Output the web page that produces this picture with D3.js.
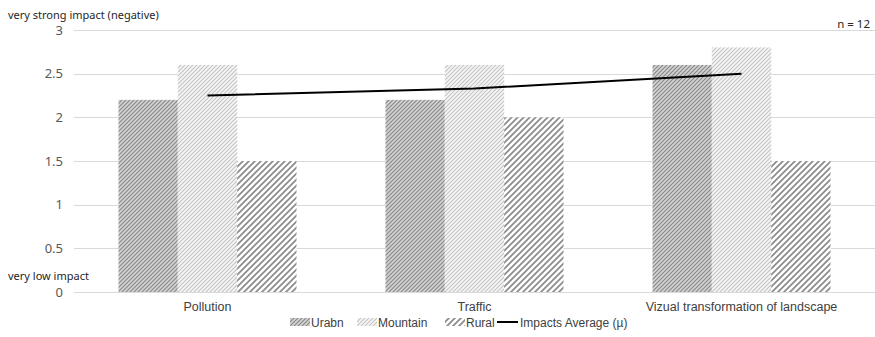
<!DOCTYPE html>
<html>
<head>
<meta charset="utf-8">
<script src="https://cdn.jsdelivr.net/npm/d3@7"></script>
<style>
  body { margin: 0; background: #fff; }
  svg { display: block; }
</style>
</head>
<body>
<svg id="chart" width="875" height="337"></svg>
<script>
const categories = ["Pollution", "Traffic", "Vizual transformation of landscape"];
const seriesNames = ["Urabn", "Mountain", "Rural"];
const urabn = [2.2, 2.2, 2.6];
const mountain = [2.6, 2.6, 2.8];
const rural = [1.5, 2.0, 1.5];
const impactsAverage = [2.25, 2.33, 2.5];
const yTicks = [0, 0.5, 1, 1.5, 2, 2.5, 3];
const lineName = "Impacts Average (\u00b5)";

const series = [urabn, mountain, rural];

const svg = d3.select("#chart");
const W = 875;
const plotLeft = 74;

// Hatch patterns for the three bar series
const defs = svg.append("defs");
function hatch(id, size, bg, stroke, width) {
  const p = defs.append("pattern")
    .attr("id", id)
    .attr("patternUnits", "userSpaceOnUse")
    .attr("width", size).attr("height", size);
  p.append("rect").attr("width", size).attr("height", size).attr("fill", bg);
  p.append("path")
    .attr("d", `M${-size / 2},${size / 2} L${size / 2},${-size / 2} M0,${size} L${size},0 M${size / 2},${size * 1.5} L${size * 1.5},${size / 2}`)
    .attr("stroke", stroke).attr("stroke-width", width);
}
hatch("hUrabn", 4, "#d4d4d4", "#888888", 1.2);
hatch("hMountain", 4, "#f7f7f7", "#c4c4c4", 1.2);
hatch("hRural", 6, "#ffffff", "#8a8a8a", 1.7);
const fills = ["url(#hUrabn)", "url(#hMountain)", "url(#hRural)"];

const x0 = d3.scaleBand().domain(categories).range([plotLeft, W]).paddingInner(0).paddingOuter(0);
const x1 = d3.scaleBand().domain(seriesNames).range([0, x0.bandwidth()]).paddingInner(0).paddingOuter(0.75);
const y = d3.scaleLinear().domain([0, 3]).range([292, 30]);

// Value axis labels
const yAxis = d3.axisLeft(y).tickValues(yTicks).tickFormat(d3.format("")).tickSize(0).tickPadding(0);
const gy = svg.append("g").attr("transform", `translate(${plotLeft - 11},0)`).call(yAxis);
gy.select(".domain").remove();
gy.selectAll("text")
  .attr("fill", "#595959")
  .attr("font-family", "'Noto Sans', 'DejaVu Sans', sans-serif")
  .attr("font-size", 13)
  .attr("text-anchor", "end");

// Gridlines
svg.append("g").selectAll("line")
  .data(yTicks)
  .join("line")
  .attr("x1", plotLeft).attr("x2", W)
  .attr("y1", d => Math.round(y(d)) + 0.5).attr("y2", d => Math.round(y(d)) + 0.5)
  .attr("stroke", "#d9d9d9").attr("stroke-width", 1);

// Bars
const groups = svg.append("g").selectAll("g")
  .data(categories)
  .join("g")
  .attr("transform", d => `translate(${x0(d)},0)`);
groups.selectAll("rect")
  .data((d, i) => seriesNames.map((s, j) => ({ s, j, v: series[j][i] })))
  .join("rect")
  .attr("x", d => x1(d.s))
  .attr("width", x1.bandwidth())
  .attr("y", d => y(d.v))
  .attr("height", d => y(0) - y(d.v))
  .attr("fill", d => fills[d.j]);

// Average line
const line = d3.line()
  .x((d, i) => x0(categories[i]) + x0.bandwidth() / 2)
  .y(d => y(d));
svg.append("path")
  .datum(impactsAverage)
  .attr("d", line)
  .attr("fill", "none")
  .attr("stroke", "#000")
  .attr("stroke-width", 2);

// Category axis labels
const xAxis = d3.axisBottom(x0).tickSize(0).tickPadding(0);
const gx = svg.append("g").attr("transform", `translate(0,${y(0) + 19})`).call(xAxis);
gx.select(".domain").remove();
gx.selectAll("text")
  .attr("fill", "#404040")
  .attr("font-family", "'Liberation Sans', Arial, sans-serif")
  .attr("font-size", 12.5)
  .attr("dy", 0);

// Scale end annotations
const annoFont = "'Noto Sans', 'DejaVu Sans', sans-serif";
svg.append("text").attr("x", 8).attr("y", 19)
  .attr("font-family", annoFont).attr("font-size", 11).attr("fill", "#262626")
  .text("very strong impact (negative)");
svg.append("text").attr("x", 8).attr("y", 280)
  .attr("font-family", annoFont).attr("font-size", 11).attr("fill", "#262626")
  .text("very low impact");
svg.append("text").attr("x", 870).attr("y", 28).attr("text-anchor", "end")
  .attr("font-family", annoFont).attr("font-size", 11.5).attr("fill", "#262626")
  .text("n = 12");

// Legend
const legendY = 322;
const legendItems = [
  { name: seriesNames[0], type: "rect", fill: fills[0], x: 290 },
  { name: seriesNames[1], type: "rect", fill: fills[1], x: 357 },
  { name: seriesNames[2], type: "rect", fill: fills[2], x: 445 },
  { name: lineName, type: "line", x: 497 }
];
const lg = svg.append("g").selectAll("g")
  .data(legendItems)
  .join("g")
  .attr("transform", d => `translate(${d.x},${legendY})`);
lg.filter(d => d.type === "rect").append("rect")
  .attr("x", 0).attr("y", -4).attr("width", 20).attr("height", 8)
  .attr("fill", d => d.fill);
lg.filter(d => d.type === "line").append("line")
  .attr("x1", 0).attr("x2", 21).attr("y1", 0).attr("y2", 0)
  .attr("stroke", "#000").attr("stroke-width", 2);
lg.append("text")
  .attr("x", d => d.type === "line" ? 23 : 21)
  .attr("y", 4.5)
  .attr("font-family", "'Liberation Sans', Arial, sans-serif")
  .attr("font-size", 12)
  .attr("fill", "#404040")
  .text(d => d.name);
</script>
</body>
</html>
